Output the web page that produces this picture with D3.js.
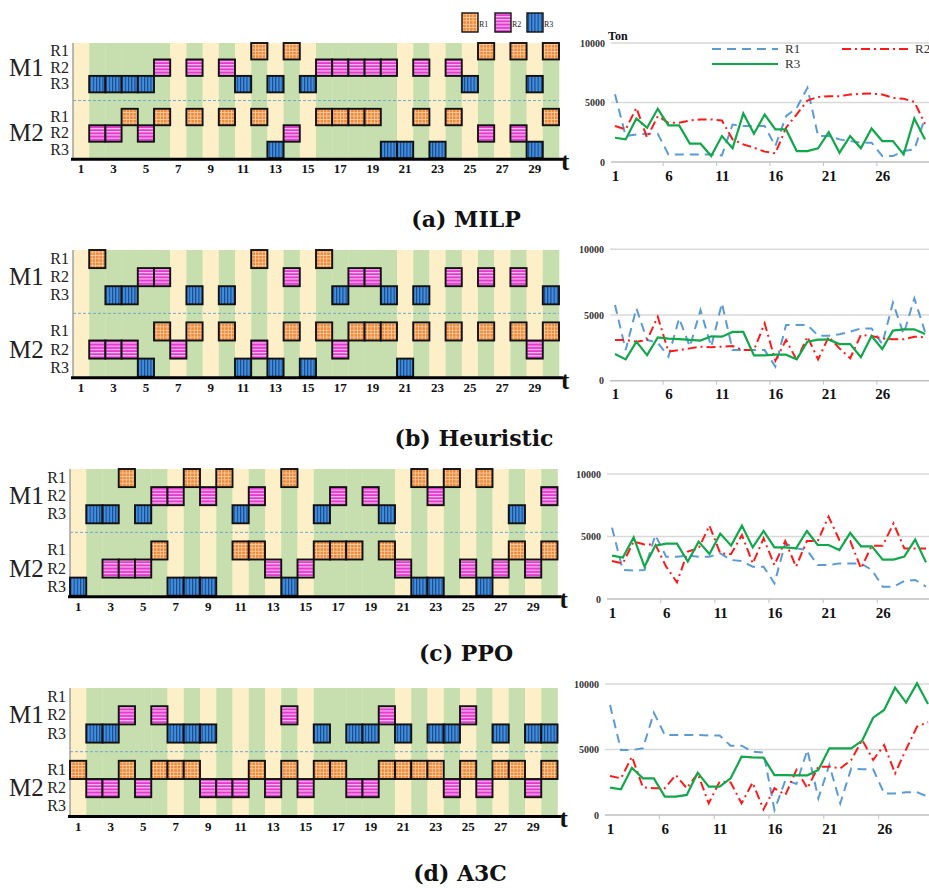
<!DOCTYPE html>
<html><head><meta charset="utf-8">
<script src="https://cdn.jsdelivr.net/npm/d3@7"></script>
<style>body{margin:0;background:#fff}svg{display:block}</style>
</head><body>
<svg id="chart" width="929" height="888"></svg>
<script>
// ---------------- DATA ----------------
const timeSlots = d3.range(1, 31);
const greenSlots = [2,3,4,5,6,8,10,12,14,16,17,18,19,20,22,24,26,28,30];
const ganttTicks = [1,3,5,7,9,11,13,15,17,19,21,23,25,27,29];
const lineTicks = [1,6,11,16,21,26];
const yTicks = [0,5000,10000];
const resources = ["R1","R2","R3"];
const machines = ["M1","M2"];
const captions = ["(a) MILP","(b) Heuristic","(c) PPO","(d) A3C"];

// Gantt: time slots at which each machine uses each resource
const milpM1R1 = [12,14,26,28,30];
const milpM1R2 = [6,8,10,16,17,18,19,20,22,24];
const milpM1R3 = [2,3,4,5,11,13,15,25,29];
const milpM2R1 = [4,6,8,10,12,16,17,18,19,22,24,30];
const milpM2R2 = [2,3,5,14,26,28];
const milpM2R3 = [13,20,21,23,29];

const heurM1R1 = [2,12,16];
const heurM1R2 = [5,6,14,18,19,24,26,28];
const heurM1R3 = [3,4,8,10,17,20,22,30];
const heurM2R1 = [6,8,10,14,16,18,19,20,22,24,26,28,30];
const heurM2R2 = [2,3,4,7,12,17,29];
const heurM2R3 = [5,11,13,15,21];

const ppoM1R1 = [4,8,10,14,22,24,26];
const ppoM1R2 = [6,7,9,12,17,19,23,30];
const ppoM1R3 = [2,3,5,11,16,20,28];
const ppoM2R1 = [6,11,12,16,17,18,20,28,30];
const ppoM2R2 = [3,4,5,13,15,21,25,27,29];
const ppoM2R3 = [1,7,8,9,14,22,23,26];

const a3cM1R1 = [];
const a3cM1R2 = [4,6,14,20,25];
const a3cM1R3 = [2,3,7,8,9,16,18,19,21,23,24,27,29,30];
const a3cM2R1 = [1,4,6,7,8,12,14,16,17,20,21,22,23,25,27,28,30];
const a3cM2R2 = [2,3,5,9,10,11,13,15,18,19,24,26,29];
const a3cM2R3 = [];

// Inventory (Ton) per resource over time
const milpR1 = [5700,2180,2320,2370,2370,640,640,640,640,640,560,3150,3020,3020,3020,1340,3850,4550,6230,2180,2180,1900,1760,1620,1620,500,500,920,1060,3710];
const milpR2 = [3020,2740,4550,2040,3850,3300,3300,3490,3580,3580,3490,1900,1480,1200,870,730,2880,4000,5170,5470,5530,5530,5670,5730,5750,5670,5390,5310,5060,3200];
const milpR3 = [2040,1900,3660,2880,4470,3070,3070,1540,1540,500,2180,1150,4080,2370,3990,2740,2740,920,920,1150,2510,780,2180,1150,2820,1760,1760,640,3660,1900];

const heurR1 = [5760,2330,5510,3100,2890,1830,4750,2590,5380,2590,5890,2330,2330,2330,2330,1070,4240,4240,4240,3430,3430,3530,3730,3980,3980,2790,5940,3550,6270,3730];
const heurR2 = [3100,3100,2970,3100,4870,2210,2330,2460,2590,2540,2590,2640,2330,2330,4370,1520,3100,1570,3350,1620,3350,2460,1700,3480,3400,3220,3150,3150,3350,3300];
const heurR3 = [2030,1620,2970,1950,3300,3200,3170,3100,3050,3380,3350,3710,3710,1930,1930,1980,1980,1620,2970,3120,3120,2790,2790,1780,3400,2410,3810,3910,3910,3550];

const ppoR1 = [5710,2320,2270,2320,5120,3390,3390,3470,3390,3390,3650,3120,3040,2590,2590,1250,4450,4050,3920,2720,2720,2850,2850,2850,2320,990,990,1440,1520,990];
const ppoR2 = [3040,2850,4590,4370,4370,2590,1330,3790,4050,5870,3650,3600,5120,2850,4850,2720,4640,2590,4640,4640,6590,4720,4640,2450,4270,4270,6050,4050,4050,4050];
const ppoR3 = [3470,3310,4930,2590,4270,4430,4430,2990,4590,3600,5230,4270,5870,4130,5440,4130,4130,4050,5440,4320,4320,3920,5280,4210,4210,3150,3150,3390,4750,2930];

const a3cR1 = [8400,4960,4960,5090,7810,6110,6110,6110,6110,6060,6060,5290,5290,4840,4760,380,2670,2370,4960,1270,3820,890,3560,3490,3490,1650,1650,1730,1730,1400];
const a3cR2 = [2980,2800,4450,2110,2040,2040,3050,2040,3180,890,2550,2490,890,2470,430,2040,1530,3440,2040,3690,3690,3560,4200,5730,4200,5340,3180,5010,6750,7080];
const a3cR3 = [2090,1960,3610,2800,2800,1400,1400,1530,3230,2160,2160,2800,4450,4400,4380,3050,3050,3030,3030,3440,5090,5090,5090,5680,7430,8020,9720,8580,10050,8470];

// ---------------- DRAWING ----------------
const svg = d3.select("#chart");
const defs = svg.append("defs");
// patterns
const pO = defs.append("pattern").attr("id","pO").attr("patternUnits","userSpaceOnUse").attr("width",3.4).attr("height",3.4);
pO.append("rect").attr("width",3.4).attr("height",3.4).attr("fill","#ef8a3c");
pO.append("path").attr("d","M0,0.4H3.4M0.4,0V3.4").attr("stroke","#fbd3a8").attr("stroke-width",0.8);
const pP = defs.append("pattern").attr("id","pP").attr("patternUnits","userSpaceOnUse").attr("width",4).attr("height",3.2);
pP.append("rect").attr("width",4).attr("height",3.2).attr("fill","#e23ccf");
pP.append("path").attr("d","M0,0.6H4").attr("stroke","#ffd6f6").attr("stroke-width",1);
const pB = defs.append("pattern").attr("id","pB").attr("patternUnits","userSpaceOnUse").attr("width",3.2).attr("height",4);
pB.append("rect").attr("width",3.2).attr("height",4).attr("fill","#3f8fe0");
pB.append("path").attr("d","M0.6,0V4").attr("stroke","#16346e").attr("stroke-width",0.9);
const fills = {R1:"url(#pO)", R2:"url(#pP)", R3:"url(#pB)"};

const serif = "'Liberation Serif','Times New Roman',serif";

function drawGantt(L, rows) {
  const g = svg.append("g");
  const x = d3.scaleBand().domain(timeSlots).range([L.left, L.left + 30*L.slotW]);
  const y = d3.scaleBand().domain(d3.range(7)).range([L.top, L.top + 7*L.rowH]);
  const bottom = L.top + 7*L.rowH;
  // background bands
  g.selectAll("rect.bg").data(timeSlots).join("rect")
    .attr("x", d => x(d)).attr("y", L.top).attr("width", x.bandwidth()+0.3).attr("height", 7*L.rowH)
    .attr("fill", d => greenSlots.includes(d) ? "#c7dfae" : "#fdf0c9");
  // left axis line
  g.append("line").attr("x1",L.left).attr("x2",L.left).attr("y1",L.top).attr("y2",bottom).attr("stroke","#8a8a8a").attr("stroke-width",1.2);
  // separator
  g.append("line").attr("x1",L.left).attr("x2",L.left+30*L.slotW).attr("y1",y(3)+L.rowH/2).attr("y2",y(3)+L.rowH/2)
    .attr("stroke","#6fa8c8").attr("stroke-width",1).attr("stroke-dasharray","3,2");
  // boxes
  rows.forEach((slots, i) => {
    const rowIdx = i < 3 ? i : i + 1;
    const res = resources[i % 3];
    g.selectAll(null).data(slots).join("rect")
      .attr("x", d => x(d)).attr("y", y(rowIdx)).attr("width", x.bandwidth()).attr("height", L.rowH)
      .attr("fill", fills[res]).attr("stroke","#111").attr("stroke-width",1.9);
  });
  // row labels
  [0,1,2,4,5,6].forEach((r, i) => {
    g.append("text").attr("x", L.left-4).attr("y", y(r)+L.rowH/2+5).attr("text-anchor","end")
      .attr("font-family", serif).attr("font-size", 16).attr("fill","#222").text(resources[i%3]);
  });
  machines.forEach((m, i) => {
    g.append("text").attr("x", 9).attr("y", y(i===0?1:5)+L.rowH/2+8).attr("font-family", serif)
      .attr("font-size", 25).attr("fill","#222").text(m);
  });
  // x axis
  const ax = g.append("g").attr("transform",`translate(0,${bottom})`)
    .call(d3.axisBottom(x).tickValues(ganttTicks).tickSize(0).tickPadding(6));
  ax.select(".domain").remove();
  ax.selectAll("text").attr("font-family", serif).attr("font-weight","bold").attr("font-size",13).attr("fill","#111");
  g.append("line").attr("x1",L.left-2).attr("x2",L.left+30*L.slotW+4).attr("y1",bottom+1).attr("y2",bottom+1).attr("stroke","#000").attr("stroke-width",3);
  g.append("text").attr("x", L.left+30*L.slotW+2).attr("y", bottom+12).attr("font-family", serif).attr("font-weight","bold")
    .attr("font-size", 25).attr("fill","#111").text("t");
}

function drawLine(L, r1, r2, r3, showLegend) {
  const g = svg.append("g");
  const x = d3.scalePoint().domain(timeSlots).range([L.x1, L.x30]);
  const y = d3.scaleLinear().domain([0,10000]).range([L.y0, L.y10]);
  // gridlines
  g.selectAll("line.grid").data(yTicks).join("line")
    .attr("x1", L.gx).attr("x2", 935).attr("y1", d => y(d)).attr("y2", d => y(d))
    .attr("stroke", d => d === 0 ? "#bfbfbf" : "#d9d9d9").attr("stroke-width", 1.6);
  // y labels
  const ay = g.append("g").attr("transform",`translate(${L.gx-4},0)`)
    .call(d3.axisLeft(y).tickValues(yTicks).tickSize(0).tickPadding(2).tickFormat(d3.format("d")));
  ay.select(".domain").remove();
  ay.selectAll("text").attr("font-family", serif).attr("font-weight","bold").attr("font-size",10).attr("fill","#333");
  // x tick marks and labels
  const step = x.step();
  g.selectAll("line.tk").data([5,10,15,20,25]).join("line")
    .attr("x1", d => x(d)+step/2).attr("x2", d => x(d)+step/2).attr("y1", L.y0).attr("y2", L.y0+4)
    .attr("stroke","#bfbfbf").attr("stroke-width",1);
  const axb = g.append("g").attr("transform",`translate(0,${L.y0})`)
    .call(d3.axisBottom(x).tickValues(lineTicks).tickSize(0).tickPadding(8));
  axb.select(".domain").remove();
  axb.selectAll("text").attr("font-family", serif).attr("font-weight","bold").attr("font-size",15).attr("fill","#111");
  const line = d3.line().x((d,i) => x(timeSlots[i])).y(d => y(d));
  g.append("path").datum(r1).attr("d", line).attr("fill","none").attr("stroke","#5b9bd5").attr("stroke-width",2).attr("stroke-dasharray","9,6");
  g.append("path").datum(r2).attr("d", line).attr("fill","none").attr("stroke","#ff1a1a").attr("stroke-width",2).attr("stroke-dasharray","9,4,2,4");
  g.append("path").datum(r3).attr("d", line).attr("fill","none").attr("stroke","#10a84a").attr("stroke-width",2.2);
  if (showLegend) {
    g.append("text").attr("x", L.gx-3).attr("y", L.y10-3).attr("font-family", serif).attr("font-weight","bold").attr("font-size",12).attr("fill","#111").text("Ton");
    const items = [
      {name:"R1", x:712, y:49, dash:"9,6", c:"#5b9bd5"},
      {name:"R2", x:842, y:49, dash:"9,4,2,4", c:"#ff1a1a"},
      {name:"R3", x:712, y:64, dash:null, c:"#10a84a"}];
    items.forEach(it => {
      g.append("line").attr("x1", it.x).attr("x2", it.x+66).attr("y1", it.y).attr("y2", it.y)
        .attr("stroke", it.c).attr("stroke-width",2).attr("stroke-dasharray", it.dash);
      g.append("text").attr("x", it.x+73).attr("y", it.y+4).attr("font-family", serif).attr("font-size",13).attr("fill","#333").text(it.name);
    });
  }
}

// Gantt legend (top)
const legG = svg.append("g");
resources.forEach((r, i) => {
  const lx = [462, 495, 527][i];
  legG.append("rect").attr("x", lx).attr("y", 13).attr("width", 16).attr("height", 19)
    .attr("fill", fills[r]).attr("stroke","#111").attr("stroke-width",1.4);
  legG.append("text").attr("x", lx+17).attr("y", 27).attr("font-family", serif).attr("font-size", 8).attr("fill","#222").text(r);
});

drawGantt({left:73, top:43, slotW:16.2, rowH:16.45}, [milpM1R1,milpM1R2,milpM1R3,milpM2R1,milpM2R2,milpM2R3]);
drawGantt({left:73, top:250, slotW:16.2, rowH:18.1}, [heurM1R1,heurM1R2,heurM1R3,heurM2R1,heurM2R2,heurM2R3]);
drawGantt({left:70, top:469, slotW:16.25, rowH:18.1}, [ppoM1R1,ppoM1R2,ppoM1R3,ppoM2R1,ppoM2R2,ppoM2R3]);
drawGantt({left:70, top:688, slotW:16.25, rowH:18.2}, [a3cM1R1,a3cM1R2,a3cM1R3,a3cM2R1,a3cM2R2,a3cM2R3]);

drawLine({x1:615, x30:925, y0:162, y10:43, gx:611}, milpR1, milpR2, milpR3, true);
drawLine({x1:615, x30:925, y0:380.7, y10:249.3, gx:610}, heurR1, heurR2, heurR3, false);
drawLine({x1:612, x30:926, y0:599, y10:474, gx:607}, ppoR1, ppoR2, ppoR3, false);
drawLine({x1:610, x30:928, y0:815, y10:684, gx:605}, a3cR1, a3cR2, a3cR3, false);

// captions
const capPos = [[466,227],[474,446],[466,661],[460,881]];
captions.forEach((c, i) => {
  svg.append("text").attr("x", capPos[i][0]).attr("y", capPos[i][1]).attr("text-anchor","middle")
    .attr("font-family","'DejaVu Serif',serif").attr("font-weight","bold").attr("font-size",22).attr("fill","#111").text(c);
});
</script>
</body></html>
